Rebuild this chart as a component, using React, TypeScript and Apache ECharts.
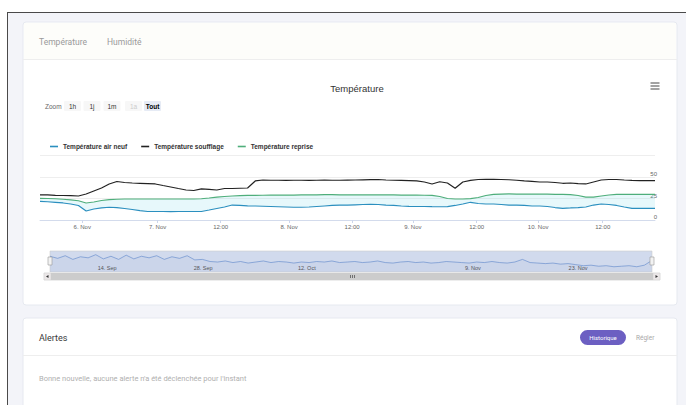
import React, { useEffect, useRef } from "react";
import * as echarts from "echarts";

// ---- data ----
const seriesNames = ["Température air neuf", "Température soufflage", "Température reprise"];

const airNeuf = [
  21.7, 21.2, 20.6, 19.8, 18.6, 16.9, 10.5, 12.8, 14.2, 14.8,
  14.5, 13.4, 12.2, 11.0, 9.9, 9.9, 9.9, 9.8, 9.9, 9.9,
  9.9, 9.9, 11.6, 13.4, 15.1, 17.4, 17.1, 16.5, 16.3, 16.0,
  15.7, 15.4, 15.1, 14.8, 14.8, 15.1, 15.7, 16.3, 16.9, 17.4,
  17.4, 17.7, 18.0, 18.3, 18.0, 17.4, 16.9, 16.3, 15.9, 15.7,
  15.7, 15.5, 15.4, 15.5, 16.9, 18.6, 20.6, 19.2, 18.6, 18.6,
  18.0, 17.4, 17.4, 16.9, 16.3, 16.3, 15.7, 14.5, 13.6, 14.0,
  14.5, 15.1, 17.4, 18.6, 18.0, 16.9, 15.1, 13.6, 13.6, 13.6,
  13.6,
];

const soufflage = [
  29.1, 29.1, 28.7, 28.5, 28.3, 27.9, 30.2, 33.7, 37.2, 41.9,
  44.8, 43.6, 43.0, 42.7, 42.4, 41.9, 40.1, 38.4, 36.6, 34.9,
  34.3, 36.1, 35.5, 34.9, 36.6, 36.6, 36.9, 37.2, 45.4, 46.5,
  46.2, 46.2, 46.0, 46.2, 46.2, 46.0, 46.2, 46.4, 46.2, 46.2,
  46.4, 46.5, 46.7, 46.9, 47.1, 46.5, 46.2, 46.0, 45.7, 45.4,
  44.2, 41.9, 44.5, 43.0, 36.9, 44.2, 46.0, 47.1, 47.3, 47.3,
  47.1, 46.8, 46.2, 45.4, 44.8, 44.2, 44.2, 43.6, 42.7, 43.0,
  42.4, 41.9, 44.2, 46.5, 47.1, 47.1, 46.5, 46.0, 45.7, 45.7,
  45.7,
];

const reprise = [
  25.2, 25.0, 24.7, 24.1, 23.3, 22.4, 19.8, 20.9, 22.7, 23.6,
  24.1, 24.4, 24.4, 24.4, 24.4, 24.4, 24.4, 24.4, 24.4, 24.4,
  24.4, 24.7, 25.6, 26.7, 27.3, 27.9, 28.3, 28.7, 28.7, 28.8,
  28.9, 28.9, 29.0, 29.0, 29.1, 29.2, 29.3, 29.4, 29.4, 29.3,
  29.2, 29.2, 29.1, 29.1, 29.1, 29.1, 29.1, 29.0, 29.0, 28.9,
  28.8, 28.7, 27.3, 25.0, 24.4, 24.4, 24.8, 26.2, 28.5, 29.7,
  30.2, 30.3, 30.2, 30.2, 30.1, 30.0, 30.0, 29.9, 29.8, 29.6,
  28.5, 26.6, 26.7, 27.9, 29.1, 29.9, 29.9, 29.9, 29.9, 29.9,
  29.9,
];

const xTickPos = [5.5, 15.3, 23.5, 32.4, 40.6, 48.5, 56.8, 64.8, 73.2];
const xTickLabels = ["6. Nov", "7. Nov", "12:00", "8. Nov", "12:00", "9. Nov", "12:00", "10. Nov", "12:00"];

const yMin = 0;
const yMax = 75;
const yStep = 25;

const navigatorValues = [
  30, 26, 31, 24, 29, 27, 33, 25, 30, 24,
  32, 25, 30, 27, 31, 24, 29, 26, 31, 23,
  24, 20, 19, 21, 18, 20, 17, 19, 21, 18,
  20, 19, 17, 19, 18, 20, 19, 21, 18, 19,
  20, 18, 19, 21, 18, 17, 19, 20, 18, 19,
  17, 18, 20, 19, 18, 17, 19, 18, 20, 18,
  17, 19, 24, 18, 17, 16, 17, 15, 16, 14,
  12, 13, 11, 12, 10, 11, 12, 10, 13, 22,
];
const navTickPos = [7.5, 20.1, 33.7, 55.5, 69.3];
const navTickLabels = ["14. Sep", "28. Sep", "12. Oct", "9. Nov", "23. Nov"];

const rangeButtons = ["1h", "1j", "1m", "1a", "Tout"];
const tabs = ["Température", "Humidité"];

const HC_FONT = "Liberation Sans, Arial, sans-serif";
const UI_FONT = "Roboto, 'Noto Sans', sans-serif";

export default function App() {
  const ref = useRef<HTMLDivElement>(null);

  useEffect(() => {
    if (!ref.current) return;
    const chart = echarts.init(ref.current, undefined, { renderer: "svg" });

    const toXY = (arr: number[]) => arr.map((v, i) => [i, v]);

    const btnCenters = [72.5, 92, 112, 133.5, 152.5];
    const buttonGraphics: any[] = [];
    rangeButtons.forEach((b, i) => {
      const selected = b === "Tout";
      const disabled = b === "1a";
      buttonGraphics.push({
        type: "rect",
        z: 1,
        shape: { x: btnCenters[i] - 8.5, y: 101, width: 17, height: 10, r: 1 },
        style: { fill: selected ? "#e6ebf5" : "#f7f7f7" },
      });
      buttonGraphics.push({
        type: "text",
        z: 2,
        x: btnCenters[i],
        y: 106,
        style: {
          text: b,
          fill: disabled ? "#cccccc" : selected ? "#000000" : "#333333",
          font: `${selected ? "bold " : ""}6.5px ${HC_FONT}`,
          align: "center",
          verticalAlign: "middle",
        },
      });
    });

    const option: any = {
      animation: false,
      title: {
        text: "Température",
        left: 352,
        top: 78,
        textAlign: "center",
        textStyle: { fontSize: 9.5, fontWeight: "normal", color: "#333333", fontFamily: HC_FONT },
      },
      legend: {
        data: seriesNames,
        left: 45,
        top: 138,
        itemWidth: 8,
        itemHeight: 1.6,
        itemGap: 14,
        icon: "rect",
        textStyle: { fontSize: 6.5, fontWeight: "bold", color: "#333333", fontFamily: HC_FONT },
      },
      grid: [
        { left: 40, right: 31, top: 155.5, height: 64.5 },
        {
          left: 50,
          right: 34,
          top: 251,
          height: 21,
          show: true,
          backgroundColor: "rgba(102,133,194,0.3)",
          borderColor: "#cccccc",
          borderWidth: 0.6,
        },
      ],
      xAxis: [
        {
          type: "value",
          gridIndex: 0,
          min: 0,
          max: airNeuf.length - 1,
          axisLine: { show: true, lineStyle: { color: "#ccd6eb", width: 0.8 } },
          axisTick: { show: true, customValues: xTickPos, length: 3, lineStyle: { color: "#ccd6eb" } },
          axisLabel: {
            customValues: xTickPos,
            formatter: (v: number) => {
              const k = xTickPos.indexOf(v);
              return k >= 0 ? xTickLabels[k] : "";
            },
            color: "#666666",
            fontSize: 6,
            fontFamily: HC_FONT,
            margin: 4,
          },
          splitLine: { show: false },
        },
        {
          type: "value",
          gridIndex: 1,
          min: 0,
          max: navigatorValues.length - 1,
          axisLine: { show: false },
          axisTick: { show: false },
          splitLine: { show: false },
          axisLabel: {
            inside: true,
            customValues: navTickPos,
            formatter: (v: number) => {
              const k = navTickPos.indexOf(v);
              return k >= 0 ? navTickLabels[k] : "";
            },
            color: "#555555",
            fontSize: 5.5,
            fontFamily: HC_FONT,
            margin: 1,
          },
        },
      ],
      yAxis: [
        {
          type: "value",
          gridIndex: 0,
          position: "right",
          min: yMin,
          max: yMax,
          interval: yStep,
          axisLine: { show: false },
          axisTick: { show: false },
          axisLabel: {
            inside: true,
            margin: -2,
            fontSize: 6,
            color: "#666666",
            fontFamily: HC_FONT,
            verticalAlign: "bottom",
            showMaxLabel: false,
          },
          splitLine: { lineStyle: { color: "#e6e6e6", width: 0.7 } },
        },
        { type: "value", gridIndex: 1, min: 0, max: 40, show: false },
      ],
      series: [
        {
          name: "_band",
          type: "custom",
          xAxisIndex: 0,
          yAxisIndex: 0,
          silent: true,
          data: [[0, 0]],
          z: 1,
          renderItem: (params: any, api: any) => {
            const upper = reprise.map((v, i) => api.coord([i, v]));
            const lower = airNeuf.map((v, i) => api.coord([i, v])).reverse();
            return {
              type: "polygon",
              shape: { points: upper.concat(lower) },
              style: { fill: "rgba(120,215,235,0.18)" },
            };
          },
        },
        {
          name: seriesNames[0],
          type: "line",
          data: toXY(airNeuf),
          showSymbol: false,
          color: "#2b8fbf",
          lineStyle: { width: 1.2 },
          z: 3,
        },
        {
          name: seriesNames[1],
          type: "line",
          data: toXY(soufflage),
          showSymbol: false,
          color: "#222222",
          lineStyle: { width: 1.2 },
          z: 3,
        },
        {
          name: seriesNames[2],
          type: "line",
          data: toXY(reprise),
          showSymbol: false,
          color: "#4fae7b",
          lineStyle: { width: 1.2 },
          z: 3,
        },
        {
          name: "_navigator",
          type: "line",
          xAxisIndex: 1,
          yAxisIndex: 1,
          data: toXY(navigatorValues),
          showSymbol: false,
          silent: true,
          color: "#5b85c9",
          lineStyle: { width: 0.6 },
          areaStyle: { color: "rgba(51,92,173,0.05)" },
        },
      ],
      graphic: [
        // page background and frame
        { type: "rect", z: -20, shape: { x: 7, y: 12, width: 679, height: 393 }, style: { fill: "#f3f4f9" } },
        { type: "line", z: -19, shape: { x1: 7, y1: 12.5, x2: 686, y2: 12.5 }, style: { stroke: "#4a4a4a", lineWidth: 1 } },
        { type: "line", z: -19, shape: { x1: 7.5, y1: 12, x2: 7.5, y2: 405 }, style: { stroke: "#4a4a4a", lineWidth: 1 } },
        // card 1
        {
          type: "rect",
          z: -18,
          shape: { x: 23, y: 22, width: 654, height: 283, r: 3 },
          style: { fill: "#ffffff", stroke: "#e6e9f0", lineWidth: 1 },
        },
        { type: "rect", z: -17, shape: { x: 24, y: 23, width: 652, height: 36 }, style: { fill: "#fdfdfa" } },
        { type: "line", z: -16, shape: { x1: 23, y1: 59.5, x2: 677, y2: 59.5 }, style: { stroke: "#eeeeee", lineWidth: 1 } },
        {
          type: "text",
          x: 39,
          y: 42,
          style: { text: tabs[0], fill: "#9a9a9a", font: `8.5px ${UI_FONT}`, verticalAlign: "middle" },
        },
        {
          type: "text",
          x: 107,
          y: 42,
          style: { text: tabs[1], fill: "#9a9a9a", font: `8.5px ${UI_FONT}`, verticalAlign: "middle" },
        },
        // hamburger
        { type: "line", shape: { x1: 650.5, y1: 83, x2: 659.5, y2: 83 }, style: { stroke: "#666666", lineWidth: 1.2 } },
        { type: "line", shape: { x1: 650.5, y1: 86, x2: 659.5, y2: 86 }, style: { stroke: "#666666", lineWidth: 1.2 } },
        { type: "line", shape: { x1: 650.5, y1: 89, x2: 659.5, y2: 89 }, style: { stroke: "#666666", lineWidth: 1.2 } },
        // range selector
        {
          type: "text",
          x: 45,
          y: 106,
          style: { text: "Zoom", fill: "#666666", font: `6.5px ${HC_FONT}`, verticalAlign: "middle" },
        },
        ...buttonGraphics,
        // navigator handles
        { type: "rect", z: 10, shape: { x: 48, y: 257, width: 4, height: 8 }, style: { fill: "#f2f2f2", stroke: "#999999", lineWidth: 0.6 } },
        { type: "rect", z: 10, shape: { x: 650, y: 257, width: 4, height: 8 }, style: { fill: "#f2f2f2", stroke: "#999999", lineWidth: 0.6 } },
        // scrollbar
        { type: "rect", shape: { x: 44, y: 273, width: 616, height: 7 }, style: { fill: "#f2f2f2", stroke: "#f2f2f2" } },
        { type: "rect", shape: { x: 51, y: 273, width: 602, height: 7 }, style: { fill: "#cccccc", stroke: "#cccccc", lineWidth: 0.5 } },
        { type: "rect", shape: { x: 44, y: 273, width: 7, height: 7 }, style: { fill: "#ebe7e8", stroke: "#cccccc", lineWidth: 0.5 } },
        { type: "rect", shape: { x: 653, y: 273, width: 7, height: 7 }, style: { fill: "#ebe7e8", stroke: "#cccccc", lineWidth: 0.5 } },
        { type: "polygon", shape: { points: [[46, 276.5], [48.5, 275], [48.5, 278]] }, style: { fill: "#333333" } },
        { type: "polygon", shape: { points: [[658, 276.5], [655.5, 275], [655.5, 278]] }, style: { fill: "#333333" } },
        { type: "line", shape: { x1: 350.5, y1: 275, x2: 350.5, y2: 278 }, style: { stroke: "#333333", lineWidth: 0.6 } },
        { type: "line", shape: { x1: 352.5, y1: 275, x2: 352.5, y2: 278 }, style: { stroke: "#333333", lineWidth: 0.6 } },
        { type: "line", shape: { x1: 354.5, y1: 275, x2: 354.5, y2: 278 }, style: { stroke: "#333333", lineWidth: 0.6 } },
        // card 2
        {
          type: "rect",
          z: -18,
          shape: { x: 23, y: 318, width: 654, height: 100, r: 3 },
          style: { fill: "#ffffff", stroke: "#e6e9f0", lineWidth: 1 },
        },
        { type: "line", z: -16, shape: { x1: 23, y1: 355.5, x2: 677, y2: 355.5 }, style: { stroke: "#eeeeee", lineWidth: 1 } },
        {
          type: "text",
          x: 39,
          y: 337.5,
          style: { text: "Alertes", fill: "#3a3a3a", font: `9px ${UI_FONT}`, verticalAlign: "middle" },
        },
        { type: "rect", shape: { x: 580, y: 330, width: 46, height: 15, r: 7.5 }, style: { fill: "#6c5fc2" } },
        {
          type: "text",
          x: 603,
          y: 337.5,
          style: { text: "Historique", fill: "#ffffff", font: `6px ${UI_FONT}`, align: "center", verticalAlign: "middle" },
        },
        {
          type: "text",
          x: 636,
          y: 337.5,
          style: { text: "Régler", fill: "#a8a8a8", font: `6.5px ${UI_FONT}`, verticalAlign: "middle" },
        },
        {
          type: "text",
          x: 39,
          y: 378,
          style: {
            text: "Bonne nouvelle, aucune alerte n'a été déclenchée pour l'instant",
            fill: "#b0b0b0",
            font: `7.5px ${UI_FONT}`,
            verticalAlign: "middle",
          },
        },
      ],
    };

    chart.setOption(option);
    return () => chart.dispose();
  }, []);

  return (
    <div
      ref={ref}
      style={{ position: "absolute", left: 0, top: 0, width: 686, height: 405, background: "#ffffff" }}
    />
  );
}
